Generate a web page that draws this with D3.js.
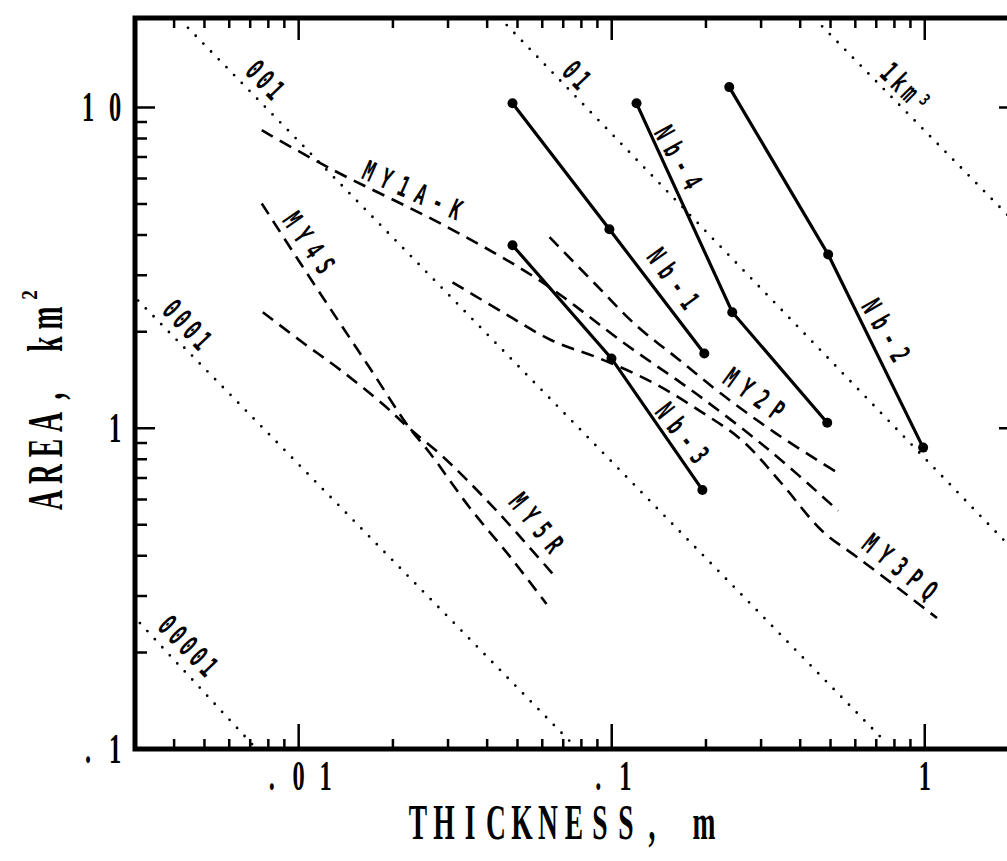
<!DOCTYPE html>
<html lang="en">
<head>
<meta charset="UTF-8">
<title>Area vs thickness</title>
<script src="https://cdn.jsdelivr.net/npm/d3@7"></script>
<style>
  html, body { margin: 0; padding: 0; background: #fff; }
  svg { display: block; }
</style>
</head>
<body>
<svg id="chart" width="1007" height="861"></svg>
<script>
// values: [thickness m, area km2]
const nb1 = [[0.0482, 10.3], [0.0983, 4.17], [0.1976, 1.71]];
const nb2 = [[0.2374, 11.57], [0.4914, 3.48], [0.988, 0.870]];
const nb3 = [[0.0482, 3.72], [0.0998, 1.65], [0.1948, 0.642]];
const nb4 = [[0.120, 10.3], [0.2427, 2.30], [0.488, 1.04]];

const my1ak = [[0.00762, 8.49], [0.01257, 6.46], [0.03034, 4.20], [0.05878, 2.89],
               [0.1122, 1.81], [0.1863, 1.28], [0.3257, 0.839], [0.529, 0.553]];
const my2p = [[0.0633, 3.94], [0.0881, 2.83], [0.1199, 2.09], [0.1621, 1.65],
              [0.2239, 1.28], [0.3354, 0.962], [0.5327, 0.721]];
const my3pq = [[0.0310, 2.85], [0.0448, 2.30], [0.0642, 1.88], [0.0914, 1.65],
               [0.1349, 1.39], [0.1905, 1.135], [0.2612, 0.915], [0.3474, 0.676],
               [0.4695, 0.479], [0.607, 0.397], [0.827, 0.316], [1.094, 0.256]];
const my4s = [[0.00762, 5.02], [0.01008, 3.29], [0.01323, 2.20], [0.0171, 1.51],
              [0.0223, 1.019], [0.0262, 0.839], [0.0352, 0.565], [0.0479, 0.392], [0.0619, 0.283]];
const my5r = [[0.00768, 2.30], [0.0103, 1.85], [0.0137, 1.51], [0.01855, 1.19],
              [0.0226, 0.997], [0.0282, 0.833], [0.0339, 0.701], [0.0438, 0.541], [0.0647, 0.352]];

// dotted equal-volume lines, start and end
const volLines = [
  [[0.00311, 0.247], [0.0072, 0.102]],
  [[0.00307, 2.50], [0.0733, 0.106]],
  [[0.00443, 17.7], [0.736, 0.107]],
  [[0.0462, 18.06], [2.0, 0.40]],
  [[0.470, 17.9], [2.0, 4.25]]
];
const volLabels = [
  {text: '00001', t: 0.00443, a: 0.2094, angle: 46},
  {text: '0001', t: 0.0044, a: 2.10, angle: 47},
  {text: '001', t: 0.0078, a: 12.17, angle: 46},
  {text: '01', t: 0.0772, a: 12.6, angle: 47},
  {text: '1km³', t: 0.865, a: 11.53, angle: 45}
];
const lineLabels = [
  {text: 'MY1A-K', t: 0.0231, a: 5.52, angle: 24},
  {text: 'MY4S', t: 0.01078, a: 3.79, angle: 55},
  {text: 'MY5R', t: 0.0575, a: 0.507, angle: 51},
  {text: 'MY2P', t: 0.2853, a: 1.28, angle: 36},
  {text: 'MY3PQ', t: 0.834, a: 0.370, angle: 39},
  {text: 'Nb-1', t: 0.1572, a: 2.93, angle: 54},
  {text: 'Nb-2', t: 0.752, a: 2.02, angle: 60},
  {text: 'Nb-3', t: 0.168, a: 0.967, angle: 52},
  {text: 'Nb-4', t: 0.1632, a: 6.99, angle: 61}
];

const xMajor = [0.01, 0.1, 1];
const xMajorLabels = ['.01', '.1', '1'];
const xMinor = [0.004, 0.005, 0.006, 0.007, 0.008, 0.009,
                0.02, 0.03, 0.04, 0.05, 0.06, 0.07, 0.08, 0.09,
                0.2, 0.3, 0.4, 0.5, 0.6, 0.7, 0.8, 0.9];
const yMajor = [1, 10];
const yMajorLabels = ['.1', '1', '10'];
const yLabelValues = [0.1, 1, 10];
const yMinor = [0.2, 0.3, 0.4, 0.5, 0.6, 0.7, 0.8, 0.9,
                2, 3, 4, 5, 6, 7, 8, 9];

const svg = d3.select('#chart');
const x = d3.scaleLog().domain([0.003, 2]).range([135, 1019]);
const y = d3.scaleLog().domain([0.1, 19]).range([749, 18]);
const plotL = x(0.003), plotR = x(2), plotT = y(19), plotB = y(0.1);

svg.append('defs').append('clipPath').attr('id', 'plotclip')
  .append('rect')
  .attr('x', plotL).attr('y', plotT)
  .attr('width', plotR - plotL).attr('height', plotB - plotT);

// text with typewriter-like spacing, one glyph at a time
function spaced(g, str, px, py, o) {
  const chars = Array.from(str);
  const n = chars.length;
  const grp = g.append('g').attr('transform', `translate(${px},${py}) rotate(${o.angle || 0})`);
  let off = -(n - 1) * o.pitch / 2;
  if (o.anchor === 'end') off = -(n - 1) * o.pitch;
  chars.forEach((c, i) => {
    if (c === ' ') return;
    grp.append('text')
      .attr('transform', `translate(${off + i * o.pitch},${o.dy || 0}) scale(${o.sx},1)`)
      .attr('text-anchor', 'middle')
      .style('font-family', o.family)
      .style('font-size', o.size + 'px')
      .style('font-weight', o.weight || 'normal')
      .attr('fill', '#000')
      .text(c);
  });
  return grp;
}

const plot = svg.append('g').attr('clip-path', 'url(#plotclip)');
const line = d3.line().x(d => x(d[0])).y(d => y(d[1]));

// dotted equal-volume lines
plot.selectAll('path.vol').data(volLines).enter().append('path')
  .attr('class', 'vol')
  .attr('d', line)
  .attr('fill', 'none').attr('stroke', '#000')
  .attr('stroke-width', 2.8).attr('stroke-linecap', 'round')
  .attr('stroke-dasharray', '0 11');

// dashed MY curves
plot.selectAll('path.my').data([my1ak, my2p, my3pq, my4s, my5r]).enter().append('path')
  .attr('class', 'my')
  .attr('d', d3.line().x(d => x(d[0])).y(d => y(d[1])).curve(d3.curveCatmullRom))
  .attr('fill', 'none').attr('stroke', '#000')
  .attr('stroke-width', 2.6)
  .attr('stroke-dasharray', '13 8');

// solid Nb lines with points
const nbSeries = [nb1, nb2, nb3, nb4];
plot.selectAll('path.nb').data(nbSeries).enter().append('path')
  .attr('class', 'nb')
  .attr('d', line)
  .attr('fill', 'none').attr('stroke', '#000').attr('stroke-width', 3.2);
plot.selectAll('circle.pt').data(nbSeries.flat()).enter().append('circle')
  .attr('class', 'pt')
  .attr('cx', d => x(d[0])).attr('cy', d => y(d[1]))
  .attr('r', 5).attr('fill', '#000');

// frame and all the inward ticks as one outline path
const p = d3.path();
p.rect(plotL, plotT, plotR - plotL, plotB - plotT);
function xTicks(vals, y0, len) {
  vals.forEach(v => { p.moveTo(x(v), y0); p.lineTo(x(v), y0 + len); });
}
function yTicks(vals, x0, len) {
  vals.forEach(v => { p.moveTo(x0, y(v)); p.lineTo(x0 + len, y(v)); });
}
xTicks(xMinor, plotB, -10);
xTicks(xMajor, plotB, -25);
xTicks(xMinor, plotT, 10);
xTicks(xMajor, plotT, 22);
yTicks(yMinor, plotL, 12);
yTicks(yMajor, plotL, 20);
yTicks(yMinor, plotR, -12);
yTicks(yMajor, plotR, -20);
svg.append('path')
  .attr('d', p.toString())
  .attr('fill', 'none').attr('stroke', '#000').attr('stroke-width', 2.5);

// labels inside the plot
lineLabels.forEach(l => {
  spaced(svg, l.text, x(l.t), y(l.a), {
    angle: l.angle, pitch: 19, size: 28, sx: 0.6, dy: 10,
    family: '"DejaVu Sans Mono", monospace', weight: 'bold'
  });
});
volLabels.forEach(l => {
  spaced(svg, l.text, x(l.t), y(l.a), {
    angle: l.angle, pitch: 15, size: 29, sx: 0.6, dy: 10,
    family: '"DejaVu Sans Mono", monospace', weight: 'bold'
  });
});

// heavy frame on top
svg.append('rect')
  .attr('x', plotL).attr('y', plotT)
  .attr('width', plotR - plotL).attr('height', plotB - plotT)
  .attr('fill', 'none').attr('stroke', '#000').attr('stroke-width', 5);

// tick labels
const axisFont = {family: '"Liberation Serif", serif', size: 42, sx: 0.58, pitch: 27, weight: 'bold'};
xMajor.forEach((v, i) => {
  spaced(svg, xMajorLabels[i], x(v), 790, axisFont);
});
yLabelValues.forEach((v, i) => {
  spaced(svg, yMajorLabels[i], 115, y(v) + 14, Object.assign({anchor: 'end'}, axisFont));
});

// axis titles
const titleFont = {family: '"Liberation Serif", serif', size: 50, sx: 0.55, pitch: 26, weight: 'bold'};
spaced(svg, 'THICKNESS, m', 561, 839, titleFont);
spaced(svg, 'AREA, km', 62, 409, Object.assign({angle: -90}, titleFont));
spaced(svg, '2', 37, 295, {family: '"Liberation Serif", serif', size: 24, sx: 0.8, pitch: 0, weight: 'bold', angle: -90, dy: 0});
</script>
</body>
</html>
